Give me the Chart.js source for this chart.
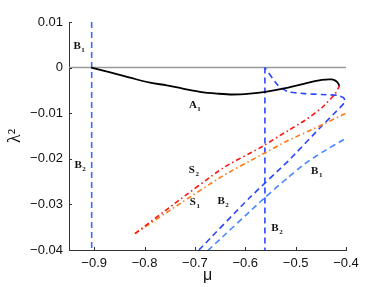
<!DOCTYPE html>
<html><head><meta charset="utf-8">
<script src="https://cdn.jsdelivr.net/npm/chart.js@4/dist/chart.umd.min.js"></script>
<style>html,body{margin:0;padding:0;background:#fff}#c{display:block}</style>
</head><body><canvas id="c" width="382" height="287"></canvas>
<script>
// ---- tick values ----
const xTicks = [-0.9, -0.8, -0.7, -0.6, -0.5, -0.4];
const yTicks = [0.01, 0, -0.01, -0.02, -0.03, -0.04];

// ---- reference zero line ----
const zeroMu = [-0.95, -0.4];
const zeroL  = [0, 0];

// ---- A1 (black solid) ----
const a1Mu = [-0.906, -0.87, -0.829, -0.789, -0.756, -0.724, -0.690, -0.656, -0.625, -0.591, -0.560, -0.515, -0.482, -0.448, -0.428, -0.418, -0.413];
const a1L  = [0, -0.0010, -0.0022, -0.0033, -0.0039, -0.0046, -0.0053, -0.0057, -0.0059, -0.0057, -0.0053, -0.0044, -0.0035, -0.0027, -0.0026, -0.0031, -0.0040];

// ---- S2 (red dash-dot) ----
const s2Mu = [-0.819, -0.740, -0.644, -0.571, -0.515, -0.482, -0.448, -0.422, -0.413];
const s2L  = [-0.0364, -0.0298, -0.0220, -0.0176, -0.0138, -0.0116, -0.0088, -0.0058, -0.0040];

// ---- S1 (orange dash-dot) ----
const s1Mu = [-0.819, -0.736, -0.644, -0.571, -0.515, -0.456, -0.400];
const s1L  = [-0.0364, -0.0303, -0.0237, -0.0193, -0.0160, -0.0130, -0.0100];

// ---- B2 branch (dark blue dashed, with loop to zero) ----
const b2Mu = [-0.692, -0.591, -0.515, -0.448, -0.422, -0.402, -0.405, -0.416, -0.448, -0.482, -0.515, -0.535, -0.561];
const b2L  = [-0.0400, -0.0285, -0.0205, -0.0128, -0.0099, -0.0075, -0.0066, -0.0061, -0.0059, -0.0057, -0.0053, -0.0039, 0];

// ---- B1 branch (light blue dashed) ----
const b1Mu = [-0.674, -0.561, -0.515, -0.482, -0.448, -0.400];
const b1L  = [-0.0401, -0.0285, -0.0241, -0.0211, -0.0186, -0.0155];

// ---- vertical blue dashed lines ----
const v1Mu = [-0.905, -0.905];
const v1L  = [0.01, -0.04];
const v2Mu = [-0.561, -0.561];
const v2L  = [0, -0.04];

// ---- curve labels (data coordinates) ----
const labText = ['B', 'B', 'A', 'S', 'S', 'B', 'B', 'B'];
const labSub  = ['1', '2', '1', '2', '1', '2', '1', '2'];
const labMu   = [-0.934, -0.932, -0.704, -0.706, -0.704, -0.648, -0.462, -0.541];
const labL    = [0.0046, -0.0213, -0.0083, -0.0226, -0.0296, -0.0292, -0.0228, -0.0353];

const pts = (m, l) => m.map((v, i) => ({x: v, y: l[i]}));
const fmt = v => (v < 0 ? '\u2212' : '') + String(Math.abs(v));

const overlay = {
  id: 'overlay',
  afterDatasetsDraw(chart) {
    const {ctx, scales: {x, y}} = chart;
    ctx.save();
    ctx.strokeStyle = '#333';
    ctx.lineWidth = 1;
    xTicks.forEach(v => {
      const px = Math.round(x.getPixelForValue(v)) + 0.5;
      ctx.beginPath(); ctx.moveTo(px, y.bottom); ctx.lineTo(px, y.bottom - 3); ctx.stroke();
    });
    yTicks.forEach(v => {
      const py = Math.round(y.getPixelForValue(v)) + 0.5;
      ctx.beginPath(); ctx.moveTo(x.left, py); ctx.lineTo(x.left + 3, py); ctx.stroke();
    });
    ctx.fillStyle = '#111';
    ctx.textBaseline = 'middle';
    labText.forEach((t, i) => {
      const px = x.getPixelForValue(labMu[i]);
      const py = y.getPixelForValue(labL[i]);
      ctx.font = 'bold 11px "Liberation Serif"';
      ctx.textAlign = 'center';
      const w = ctx.measureText(t).width;
      ctx.fillText(t, px, py);
      ctx.font = 'bold 7px "Liberation Serif"';
      ctx.textAlign = 'left';
      ctx.fillText(labSub[i], px + w / 2 + 0.5, py + 4);
    });
    ctx.restore();
  }
};

const dashBlue = [6, 4];
const dashDot = [5, 3, 1.5, 3];

new Chart(document.getElementById('c'), {
  type: 'scatter',
  data: {
    datasets: [
      {data: pts(a1Mu, a1L), borderColor: '#000', borderWidth: 1.8, tension: 0.35, order: 1},
      {data: pts(s2Mu, s2L), borderColor: 'rgb(255,20,20)', borderWidth: 1.6, borderDash: dashDot, tension: 0.2, order: 2},
      {data: pts(s1Mu, s1L), borderColor: 'rgb(255,120,20)', borderWidth: 1.6, borderDash: dashDot, tension: 0.2, order: 3},
      {data: pts(b2Mu, b2L), borderColor: 'rgb(40,70,255)', borderWidth: 1.6, borderDash: dashBlue, tension: 0.2, order: 4},
      {data: pts(b1Mu, b1L), borderColor: 'rgb(70,135,255)', borderWidth: 1.6, borderDash: dashBlue, tension: 0.2, order: 5},
      {data: pts(v1Mu, v1L), borderColor: 'rgb(60,105,255)', borderWidth: 1.6, borderDash: dashBlue, tension: 0, order: 6},
      {data: pts(v2Mu, v2L), borderColor: 'rgb(40,70,255)', borderWidth: 1.6, borderDash: dashBlue, tension: 0, order: 7},
      {data: pts(zeroMu, zeroL), borderColor: '#999', borderWidth: 1.5, tension: 0, order: 10}
    ]
  },
  options: {
    responsive: false,
    animation: false,
    showLine: true,
    elements: {point: {radius: 0, hoverRadius: 0}, line: {fill: false}},
    layout: {padding: {left: 0, right: 36, top: 22, bottom: 0}},
    plugins: {legend: {display: false}, tooltip: {enabled: false}},
    events: [],
    scales: {
      x: {
        type: 'linear', min: -0.95, max: -0.4,
        afterBuildTicks: s => { s.ticks = xTicks.map(v => ({value: v})); },
        afterFit: s => { s.height = 37; },
        grid: {display: false, drawTicks: false},
        border: {display: true, color: '#333', width: 1},
        ticks: {callback: fmt, color: '#111', padding: 6, maxRotation: 0, autoSkip: false,
                font: {family: '"Liberation Sans", Arial', size: 13}},
        title: {display: true, text: '\u03bc', color: '#111', padding: {top: 0, bottom: 2},
                font: {family: '"Liberation Sans", Arial', size: 16}}
      },
      y: {
        type: 'linear', min: -0.04, max: 0.01,
        afterBuildTicks: s => { s.ticks = yTicks.map(v => ({value: v})); },
        afterFit: s => { s.width = 69; },
        grid: {display: false, drawTicks: false},
        border: {display: true, color: '#333', width: 1},
        ticks: {callback: fmt, color: '#111', padding: 6, autoSkip: false,
                font: {family: '"Liberation Sans", Arial', size: 13}},
        title: {display: true, text: '\u03bb\u00b2', color: '#111', padding: {top: 4, bottom: 0},
                font: {family: '"Liberation Serif", serif', size: 18}}
      }
    }
  },
  plugins: [overlay]
});
</script>
</body></html>
